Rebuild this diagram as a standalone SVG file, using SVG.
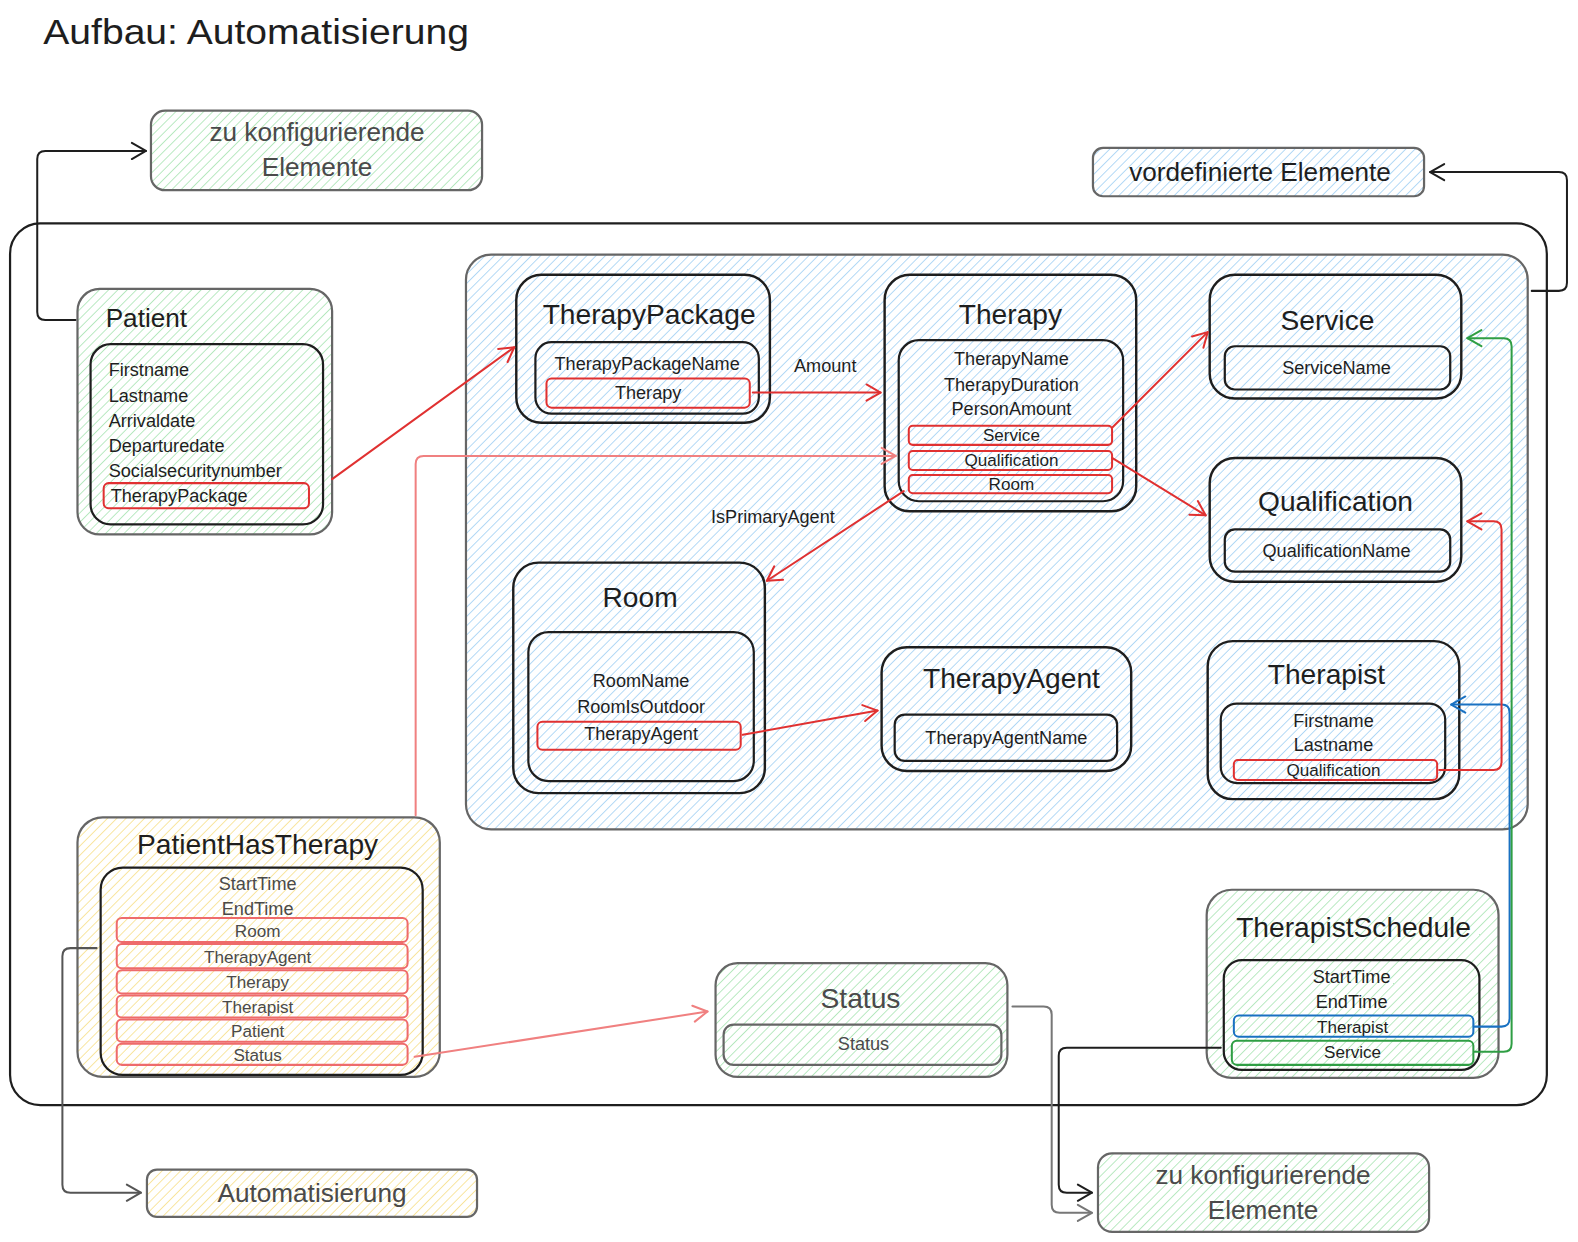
<svg xmlns="http://www.w3.org/2000/svg" width="1578" height="1242" viewBox="0 0 1578 1242">
<defs>
<pattern id="hg" width="6.5" height="6.5" patternUnits="userSpaceOnUse" patternTransform="rotate(45)"><rect width="6.5" height="6.5" fill="#ffffff"/><line x1="0" y1="0" x2="0" y2="6.5" stroke="#96dea2" stroke-width="1.3"/></pattern>
<pattern id="hb" width="6.5" height="6.5" patternUnits="userSpaceOnUse" patternTransform="rotate(45)"><rect width="6.5" height="6.5" fill="#ffffff"/><line x1="0" y1="0" x2="0" y2="6.5" stroke="#8cc6f2" stroke-width="1.3"/></pattern>
<pattern id="hy" width="6.5" height="6.5" patternUnits="userSpaceOnUse" patternTransform="rotate(45)"><rect width="6.5" height="6.5" fill="#ffffff"/><line x1="0" y1="0" x2="0" y2="6.5" stroke="#f5d970" stroke-width="1.3"/></pattern>
<marker id="mk" viewBox="0 0 20 20" refX="17" refY="10" markerWidth="20" markerHeight="20" markerUnits="userSpaceOnUse" orient="auto"><path d="M3,2 L17,10 L3,18" fill="none" stroke="#1e1e1e" stroke-width="2" stroke-linecap="round" stroke-linejoin="round"/></marker>
<marker id="mr" viewBox="0 0 20 20" refX="17" refY="10" markerWidth="20" markerHeight="20" markerUnits="userSpaceOnUse" orient="auto"><path d="M3,2 L17,10 L3,18" fill="none" stroke="#e03131" stroke-width="2" stroke-linecap="round" stroke-linejoin="round"/></marker>
<marker id="ms" viewBox="0 0 20 20" refX="17" refY="10" markerWidth="20" markerHeight="20" markerUnits="userSpaceOnUse" orient="auto"><path d="M3,2 L17,10 L3,18" fill="none" stroke="#f08080" stroke-width="2" stroke-linecap="round" stroke-linejoin="round"/></marker>
<marker id="mg" viewBox="0 0 20 20" refX="17" refY="10" markerWidth="20" markerHeight="20" markerUnits="userSpaceOnUse" orient="auto"><path d="M3,2 L17,10 L3,18" fill="none" stroke="#777777" stroke-width="2" stroke-linecap="round" stroke-linejoin="round"/></marker>
<marker id="md" viewBox="0 0 20 20" refX="17" refY="10" markerWidth="20" markerHeight="20" markerUnits="userSpaceOnUse" orient="auto"><path d="M3,2 L17,10 L3,18" fill="none" stroke="#555555" stroke-width="2" stroke-linecap="round" stroke-linejoin="round"/></marker>
<marker id="mbl" viewBox="0 0 20 20" refX="17" refY="10" markerWidth="20" markerHeight="20" markerUnits="userSpaceOnUse" orient="auto"><path d="M3,2 L17,10 L3,18" fill="none" stroke="#1971c2" stroke-width="2" stroke-linecap="round" stroke-linejoin="round"/></marker>
<marker id="mgr" viewBox="0 0 20 20" refX="17" refY="10" markerWidth="20" markerHeight="20" markerUnits="userSpaceOnUse" orient="auto"><path d="M3,2 L17,10 L3,18" fill="none" stroke="#2f9e44" stroke-width="2" stroke-linecap="round" stroke-linejoin="round"/></marker>
</defs>
<style>
text{font-family:"Liberation Sans",Arial,sans-serif;fill:#1e1e1e}
.t{font-size:28px;text-anchor:middle}
.f{font-size:18px}
.fc{font-size:18px;text-anchor:middle}
.s{font-size:17px;text-anchor:middle}
.g{fill:#4a4a4a}
.outer{stroke:#666666;stroke-width:2.2}
.inner{fill:none;stroke:#1e1e1e;stroke-width:2.2}
.ent{fill:none;stroke:#1e1e1e;stroke-width:2.4}
.red{fill:none;stroke:#e03131;stroke-width:2}
.sal{fill:none;stroke:#ee6b6b;stroke-width:2}
.c{fill:none;stroke-width:2;stroke-linecap:round;stroke-linejoin:round}
</style>
<rect width="1578" height="1242" fill="#ffffff"/>
<g transform="scale(1.0064,1.0065)">
<text id="title" x="43" y="44" style="font-size:35px" textLength="423" lengthAdjust="spacingAndGlyphs">Aufbau: Automatisierung</text>

<g id="frame"><rect x="10" y="222" width="1527" height="876" rx="30" fill="none" stroke="#1e1e1e" stroke-width="2.2"/></g>
<g id="predefined-area"><rect x="463" y="253" width="1055" height="571" rx="25" fill="url(#hb)" class="outer"/></g>

<g id="legend-config-top">
<rect x="150" y="110" width="329" height="79" rx="14" fill="url(#hg)" class="outer"/>
<text class="g" x="315" y="140" style="font-size:26px;text-anchor:middle">zu konfigurierende</text>
<text class="g" x="315" y="175" style="font-size:26px;text-anchor:middle">Elemente</text>
</g>
<g id="legend-predefined">
<rect x="1086" y="147" width="329" height="48" rx="10" fill="url(#hb)" class="outer"/>
<text x="1252" y="180" style="font-size:26px;text-anchor:middle">vordefinierte Elemente</text>
</g>
<g id="legend-automation">
<rect x="146" y="1162" width="328" height="47" rx="10" fill="url(#hy)" class="outer"/>
<text class="g" x="310" y="1194" style="font-size:26px;text-anchor:middle">Automatisierung</text>
</g>
<g id="legend-config-bottom">
<rect x="1091" y="1146" width="329" height="78" rx="14" fill="url(#hg)" class="outer"/>
<text class="g" x="1255" y="1176" style="font-size:26px;text-anchor:middle">zu konfigurierende</text>
<text class="g" x="1255" y="1211" style="font-size:26px;text-anchor:middle">Elemente</text>
</g>

<g id="patient">
<rect x="77" y="287" width="253" height="244" rx="22" fill="url(#hg)" class="outer"/>
<text x="105" y="325" style="font-size:26px">Patient</text>
<rect x="90" y="342" width="231" height="179" rx="20" class="inner"/>
<text class="f" x="108" y="374">Firstname</text>
<text class="f" x="108" y="399">Lastname</text>
<text class="f" x="108" y="424">Arrivaldate</text>
<text class="f" x="108" y="449">Departuredate</text>
<text class="f" x="108" y="474">Socialsecuritynumber</text>
<rect x="103" y="480" width="204" height="25" rx="5" class="red"/>
<text class="f" x="110" y="499">TherapyPackage</text>
</g>

<g id="therapypackage">
<rect x="513" y="273" width="252" height="147" rx="25" class="ent"/>
<text class="t" x="645" y="322">TherapyPackage</text>
<rect x="532" y="340" width="222" height="71" rx="16" class="inner"/>
<text class="fc" x="643" y="368">TherapyPackageName</text>
<rect x="543" y="376" width="202" height="29" rx="5" class="red"/>
<text class="fc" x="644" y="396">Therapy</text>
</g>

<g id="therapy">
<rect x="879" y="273" width="250" height="235" rx="25" class="ent"/>
<text class="t" x="1004" y="322">Therapy</text>
<rect x="893" y="338" width="223" height="160" rx="20" class="inner"/>
<text class="fc" x="1005" y="363">TherapyName</text>
<text class="fc" x="1005" y="388">TherapyDuration</text>
<text class="fc" x="1005" y="412">PersonAmount</text>
<rect x="903" y="423" width="202" height="19" rx="4" class="red"/>
<text class="s" x="1005" y="438">Service</text>
<rect x="903" y="448" width="202" height="19" rx="4" class="red"/>
<text class="s" x="1005" y="463">Qualification</text>
<rect x="903" y="472" width="202" height="18" rx="4" class="red"/>
<text class="s" x="1005" y="487">Room</text>
</g>

<g id="service">
<rect x="1202" y="273" width="250" height="123" rx="25" class="ent"/>
<text class="t" x="1319" y="328">Service</text>
<rect x="1217" y="344" width="224" height="43" rx="10" class="inner"/>
<text class="fc" x="1328" y="372">ServiceName</text>
</g>

<g id="qualification">
<rect x="1202" y="455" width="250" height="123" rx="25" class="ent"/>
<text class="t" x="1327" y="508">Qualification</text>
<rect x="1217" y="526" width="224" height="42" rx="10" class="inner"/>
<text class="fc" x="1328" y="553">QualificationName</text>
</g>

<g id="therapist">
<rect x="1200" y="637" width="250" height="157" rx="25" class="ent"/>
<text class="t" x="1318" y="680">Therapist</text>
<rect x="1213" y="699" width="223" height="79" rx="16" class="inner"/>
<text class="fc" x="1325" y="722">Firstname</text>
<text class="fc" x="1325" y="746">Lastname</text>
<rect x="1226" y="755" width="202" height="20" rx="4" class="red"/>
<text class="s" x="1325" y="771">Qualification</text>
</g>

<g id="room">
<rect x="510" y="559" width="250" height="229" rx="25" class="ent"/>
<text class="t" x="636" y="603">Room</text>
<rect x="525" y="628" width="224" height="148" rx="20" class="inner"/>
<text class="fc" x="637" y="683">RoomName</text>
<text class="fc" x="637" y="708">RoomIsOutdoor</text>
<rect x="534" y="717" width="202" height="28" rx="5" class="red"/>
<text class="fc" x="637" y="735">TherapyAgent</text>
</g>

<g id="therapyagent">
<rect x="876" y="643" width="248" height="123" rx="25" class="ent"/>
<text class="t" x="1005" y="684">TherapyAgent</text>
<rect x="889" y="710" width="221" height="46" rx="10" class="inner"/>
<text class="fc" x="1000" y="739">TherapyAgentName</text>
</g>

<g id="patienthastherapy">
<rect x="77" y="812" width="360" height="258" rx="25" fill="url(#hy)" class="outer"/>
<text class="t" x="256" y="848">PatientHasTherapy</text>
<rect x="100" y="862" width="320" height="206" rx="22" class="inner"/>
<text class="fc g" x="256" y="884">StartTime</text>
<text class="fc g" x="256" y="909">EndTime</text>
<rect x="116" y="912" width="289" height="24" rx="5" class="sal"/>
<text class="s g" x="256" y="931">Room</text>
<rect x="116" y="938" width="289" height="24" rx="5" class="sal"/>
<text class="s g" x="256" y="957">TherapyAgent</text>
<rect x="116" y="964" width="289" height="23" rx="5" class="sal"/>
<text class="s g" x="256" y="982">Therapy</text>
<rect x="116" y="989" width="289" height="22" rx="5" class="sal"/>
<text class="s g" x="256" y="1006">Therapist</text>
<rect x="116" y="1013" width="289" height="22" rx="5" class="sal"/>
<text class="s g" x="256" y="1030">Patient</text>
<rect x="116" y="1037" width="289" height="21" rx="5" class="sal"/>
<text class="s g" x="256" y="1054">Status</text>
</g>

<g id="status">
<rect x="711" y="957" width="290" height="113" rx="22" fill="url(#hg)" class="outer"/>
<text class="t g" x="855" y="1001">Status</text>
<rect x="719" y="1018" width="276" height="40" rx="10" fill="none" stroke="#666666" stroke-width="2.2"/>
<text class="fc g" x="858" y="1043">Status</text>
</g>

<g id="therapistschedule">
<rect x="1199" y="884" width="290" height="187" rx="25" fill="url(#hg)" class="outer"/>
<text class="t" x="1345" y="931">TherapistSchedule</text>
<rect x="1216" y="954" width="254" height="109" rx="18" class="inner"/>
<text class="fc" x="1343" y="977">StartTime</text>
<text class="fc" x="1343" y="1001">EndTime</text>
<rect x="1226" y="1009" width="238" height="21" rx="5" fill="none" stroke="#1971c2" stroke-width="2"/>
<text class="s" x="1344" y="1026">Therapist</text>
<rect x="1224" y="1034" width="240" height="24" rx="5" fill="none" stroke="#2f9e44" stroke-width="2"/>
<text class="s" x="1344" y="1051">Service</text>
</g>

<g id="connectors">
<path class="c" stroke="#1e1e1e" marker-end="url(#mk)" d="M75,318 L45,318 Q37,318 37,310 L37,158 Q37,150 45,150 L145,150"/>
<path class="c" stroke="#1e1e1e" marker-end="url(#mk)" d="M1522,289 L1549,289 Q1557,289 1557,281 L1557,179 Q1557,171 1549,171 L1421,171"/>
<path class="c" stroke="#777777" marker-end="url(#mg)" d="M1006,1000 L1037,1000 Q1045,1000 1045,1008 L1045,1197 Q1045,1205 1053,1205 L1085,1205"/>
<path class="c" stroke="#1e1e1e" marker-end="url(#mk)" d="M1213,1041 L1060,1041 Q1052,1041 1052,1049 L1052,1177 Q1052,1185 1060,1185 L1085,1185"/>
<path class="c" stroke="#555555" marker-end="url(#md)" d="M96,942 L70,942 Q62,942 62,950 L62,1177 Q62,1185 70,1185 L140,1185"/>
<path class="c" stroke="#f08080" marker-end="url(#ms)" d="M413,810 L413,461 Q413,453 421,453 L890,453"/>
<path class="c" stroke="#1971c2" marker-end="url(#mbl)" d="M1465,1020 L1492,1020 Q1500,1020 1500,1012 L1500,708 Q1500,700 1492,700 L1442,700"/>
<path class="c" stroke="#2f9e44" marker-end="url(#mgr)" d="M1465,1045 L1494,1045 Q1502,1045 1502,1037 L1502,344 Q1502,336 1494,336 L1458,336"/>
<path class="c" stroke="#e03131" marker-end="url(#mr)" d="M1430,765 L1484,765 Q1492,765 1492,757 L1492,526 Q1492,518 1484,518 L1458,518"/>
<path class="c" stroke="#e03131" marker-end="url(#mr)" d="M330,476 L511,345"/>
<path class="c" stroke="#e03131" marker-end="url(#mr)" d="M748,390 L875,390"/>
<path class="c" stroke="#e03131" marker-end="url(#mr)" d="M1105,425 L1200,330"/>
<path class="c" stroke="#e03131" marker-end="url(#mr)" d="M1105,455 L1198,512"/>
<path class="c" stroke="#e03131" marker-end="url(#mr)" d="M898,488 L762,577"/>
<path class="c" stroke="#e03131" marker-end="url(#mr)" d="M738,730 L872,706"/>
<path class="c" stroke="#f08080" marker-end="url(#ms)" d="M412,1050 L703,1005"/>
<text class="fc" x="820" y="370">Amount</text>
<text class="fc" x="768" y="520">IsPrimaryAgent</text>
</g>
</g>
</svg>
